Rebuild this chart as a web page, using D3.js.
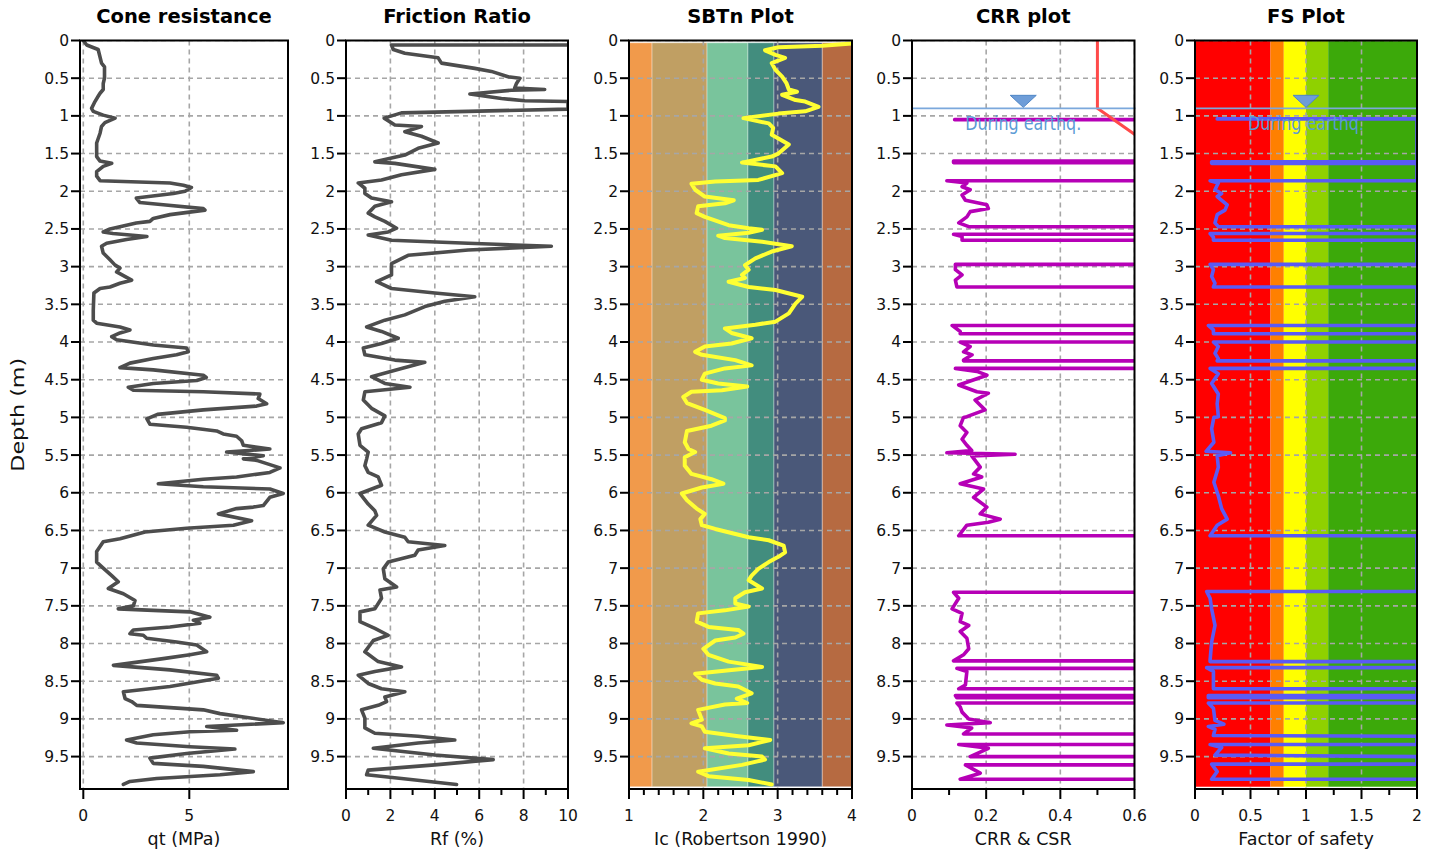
<!DOCTYPE html>
<html><head><meta charset="utf-8">
<script src="https://cdn.jsdelivr.net/npm/d3@7"></script>
<style>
html,body{margin:0;padding:0;background:#fff;}
svg{display:block;font-family:"DejaVu Sans",Verdana,sans-serif;}
</style></head>
<body>
<svg id="chart" width="1440" height="852"></svg>
<script>
// ---------------- DATA ----------------
const depthTicks = [0,0.5,1,1.5,2,2.5,3,3.5,4,4.5,5,5.5,6,6.5,7,7.5,8,8.5,9,9.5];
const depthTickLabels = ["0","0.5","1","1.5","2","2.5","3","3.5","4","4.5","5","5.5","6","6.5","7","7.5","8","8.5","9","9.5"];
const panelTitles = ["Cone resistance","Friction Ratio","SBTn Plot","CRR plot","FS Plot"];
const axisTitles = ["qt (MPa)","Rf (%)","Ic (Robertson 1990)","CRR & CSR","Factor of safety"];
const qtTicks = [0,5], qtTickLabels = ["0","5"];
const rfTicks = [0,2,4,6,8,10], rfTickLabels = ["0","2","4","6","8","10"], rfMinor = [1,3,5,7,9];
const icTicks = [1,2,3,4], icTickLabels = ["1","2","3","4"], icMinor = [1.2,1.4,1.6,1.8,2.2,2.4,2.6,2.8,3.2,3.4,3.6,3.8];
const crrTicks = [0,0.2,0.4,0.6], crrTickLabels = ["0","0.2","0.4","0.6"], crrMinor = [0.1,0.3,0.5];
const fsTicks = [0,0.5,1,1.5,2], fsTickLabels = ["0","0.5","1","1.5","2"], fsMinor = [0.25,0.75,1.25,1.75];

// Robertson SBTn zone boundaries (Ic) and colours
const icZoneBounds = [1,1.31,2.05,2.6,2.95,3.6,4];
const icZoneColors = ["#F19A4B","#C09F63","#79C49C","#428D7E","#4A5879","#B66A41"];
// Factor of safety zones
const fsZoneBounds = [0,0.68,0.8,1.0,1.2,2];
const fsZoneColors = ["#FF0000","#FF8000","#FFFF00","#8FD100","#3CA90A"];

const waterTableDepth = 0.9;
const waterLabel = "During earthq.";
const waterMarkCRR = 0.3, waterMarkFS = 1.0;

// profiles: [depth (m), value]
const qtProfile = [[0,0],[0.06,0.16],[0.12,0.7],[0.3,0.86],[0.35,1.0],[0.5,1.0],[0.57,0.94],[0.65,0.94],[0.7,0.79],[0.74,0.7],[0.81,0.55],[0.9,0.39],[0.94,0.47],[0.99,0.94],[1.03,1.5],[1.09,1.02],[1.14,0.86],[1.23,0.79],[1.36,0.63],[1.54,0.63],[1.6,0.79],[1.63,1.34],[1.67,0.94],[1.74,0.63],[1.8,0.63],[1.86,0.79],[1.89,4.09],[1.92,4.72],[1.95,5.1],[2.0,4.8],[2.03,4.25],[2.09,2.5],[2.15,2.67],[2.18,3.77],[2.23,5.66],[2.25,5.74],[2.31,4.09],[2.36,3.3],[2.4,3.14],[2.42,2.5],[2.5,1.26],[2.54,0.94],[2.56,1.4],[2.6,3.0],[2.64,2.04],[2.69,1.1],[2.73,0.86],[2.82,0.94],[2.91,1.26],[2.98,1.5],[3.02,1.73],[3.07,1.57],[3.18,2.28],[3.22,1.73],[3.27,1.26],[3.29,0.79],[3.35,0.5],[3.58,0.47],[3.71,0.47],[3.75,0.63],[3.8,1.73],[3.84,2.2],[3.88,1.73],[3.93,1.34],[3.97,1.57],[4.04,3.3],[4.08,4.87],[4.13,4.95],[4.17,4.4],[4.22,3.3],[4.28,2.2],[4.34,1.73],[4.37,3.3],[4.44,5.66],[4.47,5.8],[4.51,5.35],[4.55,3.3],[4.6,2.12],[4.64,2.36],[4.66,5.66],[4.69,8.33],[4.75,8.25],[4.82,8.65],[4.85,8.17],[4.9,5.66],[4.96,3.5],[5.02,3.0],[5.09,3.14],[5.13,4.87],[5.18,6.29],[5.22,6.6],[5.25,7.23],[5.31,7.47],[5.37,7.55],[5.42,8.8],[5.46,6.76],[5.51,8.49],[5.55,7.55],[5.57,8.18],[5.67,9.28],[5.73,8.8],[5.79,7.23],[5.82,5.66],[5.88,3.54],[5.92,5.66],[5.95,8.8],[6.01,9.43],[6.06,8.8],[6.17,8.49],[6.19,8.02],[6.21,7.23],[6.28,6.37],[6.37,7.94],[6.43,7.08],[6.47,4.87],[6.52,2.91],[6.61,1.73],[6.65,0.94],[6.78,0.63],[6.92,0.63],[7.0,0.94],[7.1,1.34],[7.18,1.65],[7.27,1.18],[7.34,1.89],[7.43,2.44],[7.5,2.36],[7.54,1.65],[7.56,3.3],[7.58,5.03],[7.65,5.97],[7.69,5.19],[7.73,5.5],[7.78,4.09],[7.82,2.36],[7.87,2.2],[7.89,2.83],[7.93,2.99],[7.98,4.4],[8.02,5.35],[8.11,5.82],[8.15,5.03],[8.2,3.77],[8.29,1.42],[8.35,4.09],[8.42,6.29],[8.46,6.37],[8.57,4.09],[8.64,1.89],[8.73,1.97],[8.77,2.28],[8.82,2.52],[8.88,5.66],[8.93,6.45],[9.05,9.43],[9.08,7.23],[9.1,5.82],[9.15,7.23],[9.17,5.03],[9.21,3.3],[9.28,2.04],[9.32,2.52],[9.37,5.03],[9.4,7.15],[9.46,4.87],[9.52,3.14],[9.59,3.3],[9.63,5.66],[9.7,8.02],[9.74,6.45],[9.79,3.46],[9.83,2.2],[9.87,1.89]];

const rfProfile = [[0.06,10],[0.06,2.05],[0.12,2.13],[0.17,2.65],[0.23,4.15],[0.3,4.3],[0.37,5.8],[0.41,6.55],[0.48,7.3],[0.5,7.83],[0.57,7.68],[0.63,7.6],[0.65,8.95],[0.66,7.45],[0.71,5.58],[0.77,7.0],[0.8,8.05],[0.81,10],[0.91,10],[0.94,5.5],[0.96,2.5],[1.03,1.72],[1.12,2.2],[1.14,3.4],[1.21,2.65],[1.27,3.4],[1.36,4.15],[1.43,3.25],[1.52,2.65],[1.61,1.3],[1.63,2.2],[1.71,4.0],[1.78,2.5],[1.85,1.6],[1.89,0.55],[1.96,0.85],[2.03,0.85],[2.09,1.15],[2.14,2.05],[2.2,1.3],[2.29,1.0],[2.34,1.3],[2.4,1.75],[2.49,2.28],[2.54,1.9],[2.58,1.0],[2.65,2.05],[2.69,5.5],[2.73,9.25],[2.78,5.5],[2.85,2.8],[2.96,2.05],[3.11,2.05],[3.2,1.38],[3.29,2.05],[3.35,4.0],[3.4,5.8],[3.46,4.45],[3.53,3.55],[3.64,2.65],[3.71,1.75],[3.8,0.93],[3.86,1.6],[3.95,2.35],[4.02,1.6],[4.08,0.78],[4.17,0.85],[4.24,2.2],[4.27,3.55],[4.35,2.5],[4.46,1.15],[4.55,1.75],[4.6,2.88],[4.66,0.85],[4.77,0.78],[4.88,1.15],[4.98,1.75],[5.07,1.6],[5.15,0.7],[5.22,0.55],[5.37,0.63],[5.46,1.0],[5.55,0.93],[5.64,0.85],[5.73,1.0],[5.79,1.45],[5.9,1.6],[6.01,0.63],[6.15,1.0],[6.24,1.3],[6.3,1.38],[6.43,1.0],[6.52,1.75],[6.59,2.65],[6.65,2.8],[6.7,4.45],[6.76,3.25],[6.83,3.1],[6.92,1.9],[7.01,1.68],[7.14,1.75],[7.25,2.28],[7.29,1.53],[7.4,1.6],[7.54,1.3],[7.58,0.63],[7.71,0.63],[7.8,1.3],[7.89,1.9],[7.96,1.23],[8.11,0.85],[8.24,1.45],[8.31,2.5],[8.37,1.3],[8.42,0.55],[8.53,1.0],[8.6,1.6],[8.64,2.65],[8.71,1.75],[8.77,1.83],[8.82,1.45],[8.88,0.7],[8.99,0.85],[9.12,0.85],[9.19,1.3],[9.23,3.25],[9.28,4.9],[9.32,3.25],[9.39,1.23],[9.48,4.0],[9.54,6.63],[9.61,4.0],[9.68,1.0],[9.74,0.93],[9.79,2.5],[9.87,4.98]];

const icProfile = [[0.04,4.0],[0.07,3.6],[0.09,3.01],[0.13,2.83],[0.19,2.97],[0.23,3.1],[0.3,2.92],[0.39,2.97],[0.48,3.06],[0.57,3.12],[0.65,3.15],[0.68,3.26],[0.72,3.06],[0.79,3.24],[0.81,3.37],[0.88,3.55],[0.94,3.37],[0.97,3.01],[1.03,2.54],[1.1,2.88],[1.16,2.94],[1.25,2.92],[1.3,3.01],[1.38,3.15],[1.5,3.01],[1.54,2.92],[1.62,2.52],[1.67,2.97],[1.76,3.06],[1.85,2.74],[1.87,2.16],[1.9,1.84],[1.98,1.89],[2.07,2.02],[2.12,2.41],[2.16,2.29],[2.2,1.93],[2.29,1.91],[2.34,2.02],[2.45,2.34],[2.49,2.61],[2.51,2.79],[2.55,2.61],[2.59,2.2],[2.62,2.29],[2.67,2.79],[2.73,3.19],[2.8,2.92],[2.89,2.7],[2.98,2.56],[3.04,2.61],[3.11,2.52],[3.15,2.56],[3.2,2.34],[3.27,2.61],[3.31,2.97],[3.4,3.33],[3.49,3.24],[3.62,3.15],[3.73,2.97],[3.77,2.7],[3.82,2.29],[3.88,2.38],[3.95,2.65],[4.02,2.38],[4.06,2.02],[4.13,1.89],[4.17,1.98],[4.24,2.43],[4.31,2.65],[4.35,2.29],[4.42,2.02],[4.5,1.98],[4.55,2.2],[4.59,2.59],[4.64,2.25],[4.66,1.84],[4.73,1.73],[4.81,1.78],[4.9,2.02],[5.01,2.29],[5.04,2.29],[5.11,2.11],[5.18,1.78],[5.33,1.75],[5.42,1.8],[5.46,1.89],[5.53,1.75],[5.64,1.75],[5.75,1.84],[5.82,2.11],[5.88,2.27],[5.93,1.98],[6.01,1.71],[6.1,1.78],[6.21,1.91],[6.28,2.02],[6.35,1.96],[6.43,1.98],[6.48,2.16],[6.59,2.61],[6.63,2.88],[6.7,3.08],[6.79,3.1],[6.85,3.01],[6.92,2.88],[7.01,2.74],[7.1,2.65],[7.16,2.61],[7.27,2.79],[7.32,2.56],[7.4,2.43],[7.47,2.43],[7.51,2.61],[7.56,2.29],[7.6,1.93],[7.71,1.91],[7.78,2.07],[7.82,2.47],[7.87,2.54],[7.92,2.43],[7.96,2.16],[8.07,2.0],[8.15,2.07],[8.24,2.34],[8.31,2.79],[8.35,2.38],[8.4,1.89],[8.48,1.98],[8.53,2.16],[8.57,2.47],[8.66,2.65],[8.73,2.45],[8.79,2.59],[8.81,2.29],[8.88,1.93],[9.01,1.98],[9.06,1.84],[9.1,1.98],[9.17,2.02],[9.23,2.47],[9.28,2.9],[9.35,2.61],[9.39,2.02],[9.46,2.34],[9.5,2.79],[9.54,2.83],[9.61,2.52],[9.7,1.93],[9.76,2.07],[9.81,2.61],[9.87,2.92]];

// CSR (red) line
const csrProfile = [[0,0.5],[0.9,0.5],[1.45,0.66]];

// CRR (purple) line, values beyond the axis are non-liquefiable (clipped)
const crrProfile = [[1.05,0.115],[1.05,0.7],[1.6,0.7],[1.6,0.112],[1.62,0.112],[1.62,0.7],[1.86,0.7],[1.86,0.094],[1.89,0.148],[1.94,0.135],[1.98,0.157],[2.05,0.135],[2.12,0.144],[2.18,0.202],[2.23,0.206],[2.27,0.157],[2.34,0.148],[2.42,0.126],[2.47,0.153],[2.47,0.7],[2.57,0.7],[2.57,0.112],[2.6,0.135],[2.65,0.135],[2.65,0.7],[2.97,0.7],[2.97,0.117],[3.04,0.117],[3.11,0.135],[3.18,0.117],[3.27,0.121],[3.27,0.7],[3.78,0.7],[3.78,0.108],[3.86,0.13],[3.89,0.13],[3.89,0.7],[4.0,0.7],[4.0,0.13],[4.06,0.157],[4.13,0.139],[4.17,0.162],[4.24,0.139],[4.25,0.139],[4.25,0.7],[4.35,0.7],[4.35,0.117],[4.39,0.175],[4.44,0.202],[4.57,0.126],[4.66,0.175],[4.68,0.206],[4.77,0.17],[4.9,0.197],[4.99,0.148],[5.0,0.139],[5.11,0.13],[5.2,0.148],[5.29,0.135],[5.37,0.148],[5.44,0.161],[5.47,0.094],[5.49,0.278],[5.51,0.161],[5.66,0.184],[5.75,0.166],[5.79,0.188],[5.88,0.13],[5.95,0.193],[6.06,0.166],[6.19,0.202],[6.28,0.184],[6.35,0.238],[6.39,0.206],[6.43,0.148],[6.57,0.126],[6.57,0.7],[7.32,0.7],[7.32,0.112],[7.4,0.126],[7.54,0.108],[7.6,0.135],[7.71,0.13],[7.76,0.153],[7.84,0.13],[7.93,0.148],[8.07,0.153],[8.15,0.139],[8.23,0.112],[8.23,0.7],[8.33,0.7],[8.33,0.121],[8.37,0.148],[8.55,0.144],[8.6,0.126],[8.6,0.7],[8.69,0.7],[8.69,0.117],[8.72,0.121],[8.72,0.7],[8.79,0.7],[8.79,0.121],[8.84,0.13],[8.91,0.135],[9.0,0.153],[9.05,0.211],[9.08,0.094],[9.12,0.161],[9.2,0.139],[9.2,0.7],[9.34,0.7],[9.34,0.126],[9.39,0.206],[9.5,0.157],[9.5,0.7],[9.61,0.7],[9.61,0.144],[9.72,0.184],[9.8,0.13],[9.8,0.7]];

// Factor of safety (capped at 2)
const fsProfile = [[1.04,0.2],[1.04,2.0],[1.61,2.0],[1.61,0.15],[1.63,0.15],[1.63,2.0],[1.86,2.0],[1.86,0.136],[1.89,0.21],[1.98,0.18],[2.03,0.24],[2.07,0.2],[2.18,0.29],[2.25,0.27],[2.31,0.2],[2.42,0.18],[2.47,0.21],[2.47,2.0],[2.56,2.0],[2.56,0.136],[2.61,0.166],[2.65,0.166],[2.65,2.0],[2.97,2.0],[2.97,0.136],[3.04,0.166],[3.13,0.15],[3.22,0.18],[3.27,0.166],[3.27,2.0],[3.78,2.0],[3.78,0.12],[3.84,0.166],[3.89,0.166],[3.89,2.0],[4.0,2.0],[4.0,0.166],[4.06,0.21],[4.15,0.18],[4.22,0.21],[4.25,0.2],[4.25,2.0],[4.35,2.0],[4.35,0.136],[4.42,0.21],[4.55,0.15],[4.69,0.21],[4.82,0.2],[4.99,0.21],[5.0,0.17],[5.15,0.15],[5.33,0.17],[5.45,0.1],[5.47,0.32],[5.51,0.2],[5.66,0.21],[5.86,0.17],[6.04,0.21],[6.21,0.24],[6.35,0.29],[6.43,0.2],[6.57,0.136],[6.57,2.0],[7.31,2.0],[7.31,0.105],[7.4,0.136],[7.54,0.15],[7.76,0.18],[7.98,0.15],[8.22,0.136],[8.24,0.136],[8.24,2.0],[8.32,2.0],[8.32,0.105],[8.37,0.166],[8.58,0.166],[8.6,0.166],[8.6,2.0],[8.69,2.0],[8.69,0.12],[8.72,0.12],[8.72,2.0],[8.79,2.0],[8.79,0.12],[8.86,0.166],[9.02,0.18],[9.07,0.26],[9.1,0.12],[9.14,0.18],[9.22,0.166],[9.23,2.0],[9.34,2.0],[9.34,0.136],[9.38,0.24],[9.48,0.18],[9.5,2.0],[9.6,2.0],[9.6,0.15],[9.7,0.2],[9.8,0.15],[9.8,2.0]];

// ---------------- LAYOUT ----------------
const plotTop = 40.5, plotBottom = 789;
const depthDomain = [0, 9.93];
const svg = d3.select("#chart");
const y = d3.scaleLinear().domain(depthDomain).range([plotTop, plotBottom]);

const panels = [
  {left:80, right:288, domain:[-0.156,9.656], ticks:qtTicks, labels:qtTickLabels, minor:[], title:panelTitles[0], xlabel:axisTitles[0]},
  {left:346, right:568, domain:[0,10], ticks:rfTicks, labels:rfTickLabels, minor:rfMinor, title:panelTitles[1], xlabel:axisTitles[1]},
  {left:629, right:852, domain:[1,4], ticks:icTicks, labels:icTickLabels, minor:icMinor, title:panelTitles[2], xlabel:axisTitles[2]},
  {left:912, right:1134.5, domain:[0,0.6], ticks:crrTicks, labels:crrTickLabels, minor:crrMinor, title:panelTitles[3], xlabel:axisTitles[3]},
  {left:1195, right:1417, domain:[0,2], ticks:fsTicks, labels:fsTickLabels, minor:fsMinor, title:panelTitles[4], xlabel:axisTitles[4]}
];
panels.forEach((p,i)=>{ p.x = d3.scaleLinear().domain(p.domain).range([p.left,p.right]); p.i=i; });

const defs = svg.append("defs");
panels.forEach((p,i)=>{
  defs.append("clipPath").attr("id","clip"+i).append("rect")
    .attr("x",p.left).attr("y",plotTop).attr("width",p.right-p.left).attr("height",plotBottom-plotTop);
});

const gridColor = "#A6A6A6";
const line = (xs)=> d3.line().x(d=>xs(d[1])).y(d=>y(d[0]));

panels.forEach((p,i)=>{
  const g = svg.append("g");
  const pg = g.append("g").attr("clip-path",`url(#clip${i})`);

  // zone bands
  if(i===2 || i===4){
    const bounds = i===2 ? icZoneBounds : fsZoneBounds;
    const cols = i===2 ? icZoneColors : fsZoneColors;
    const d0 = i===2 ? 0.03 : 0;
    const d1 = 9.9;
    pg.selectAll("rect.zone").data(cols).enter().append("rect")
      .attr("x",(c,k)=>p.x(bounds[k])).attr("width",(c,k)=>p.x(bounds[k+1])-p.x(bounds[k]))
      .attr("y",y(d0)).attr("height",y(d1)-y(d0))
      .attr("fill",c=>c)
      .attr("stroke", i===2 ? "rgba(255,255,255,0.35)" : "none").attr("stroke-width",1);
  }

  // grid
  pg.selectAll("line.hg").data(depthTicks).enter().append("line")
    .attr("x1",p.left).attr("x2",p.right).attr("y1",d=>y(d)).attr("y2",d=>y(d))
    .attr("stroke",gridColor).attr("stroke-width",1.6).attr("stroke-dasharray","5,4");
  pg.selectAll("line.vg").data(p.ticks).enter().append("line")
    .attr("x1",d=>p.x(d)).attr("x2",d=>p.x(d)).attr("y1",plotTop).attr("y2",plotBottom)
    .attr("stroke",gridColor).attr("stroke-width",1.6).attr("stroke-dasharray","5,4");

  // data lines
  const style = (sel,color,w)=> sel.attr("fill","none").attr("stroke",color).attr("stroke-width",w)
      .attr("stroke-linejoin","round").attr("stroke-linecap","round");
  if(i===0) style(pg.append("path").datum(qtProfile).attr("d",line(p.x)),"#4D4D4D",3.6);
  if(i===1) style(pg.append("path").datum(rfProfile).attr("d",line(p.x)),"#4D4D4D",3.6);
  if(i===2) style(pg.append("path").datum(icProfile).attr("d",line(p.x)),"#FFFF33",4);
  if(i===3){
    style(pg.append("path").datum(crrProfile).attr("d",line(p.x)),"#B600B6",3.6);
    style(pg.append("path").datum(csrProfile).attr("d",line(p.x)),"#FF4A4A",3);
  }
  if(i===4) style(pg.append("path").datum(fsProfile).attr("d",line(p.x)),"#5A5AF5",3.6);

  // water table
  if(i===3 || i===4){
    const wy = y(waterTableDepth);
    const mx = p.x(i===3 ? waterMarkCRR : waterMarkFS);
    g.append("line").attr("x1",p.left).attr("x2",p.right+1).attr("y1",wy).attr("y2",wy)
      .attr("stroke","#7BA8DC").attr("stroke-width",1.6);
    g.append("path").attr("d",`M${mx-13},${wy-13}L${mx+13},${wy-13}L${mx},${wy-1}Z`)
      .attr("fill","#6E9DD8").attr("stroke","#4F86C6").attr("stroke-width",1);
    g.append("text").attr("x",mx).attr("y",wy+22).attr("text-anchor","middle")
      .attr("font-size",19).attr("fill","#5B9BD5").attr("textLength",116).attr("lengthAdjust","spacingAndGlyphs")
      .text(waterLabel);
  }

  // frame
  g.append("rect").attr("x",p.left).attr("y",plotTop).attr("width",p.right-p.left).attr("height",plotBottom-plotTop)
    .attr("fill","none").attr("stroke","#000").attr("stroke-width",2);

  // y axis ticks & labels
  g.selectAll("line.yt").data(depthTicks).enter().append("line")
    .attr("x1",p.left-9).attr("x2",p.left).attr("y1",d=>y(d)).attr("y2",d=>y(d))
    .attr("stroke","#000").attr("stroke-width",2);
  g.selectAll("text.yl").data(depthTicks).enter().append("text")
    .attr("x",p.left-11).attr("y",d=>y(d)).attr("dy","0.35em").attr("text-anchor","end")
    .attr("font-size",15.5).attr("fill","#111").text((d,k)=>depthTickLabels[k]);

  // x axis ticks & labels
  g.selectAll("line.xt").data(p.ticks).enter().append("line")
    .attr("x1",d=>p.x(d)).attr("x2",d=>p.x(d)).attr("y1",plotBottom).attr("y2",plotBottom+10)
    .attr("stroke","#000").attr("stroke-width",2);
  g.selectAll("line.xm").data(p.minor).enter().append("line")
    .attr("x1",d=>p.x(d)).attr("x2",d=>p.x(d)).attr("y1",plotBottom).attr("y2",plotBottom+6)
    .attr("stroke","#000").attr("stroke-width",2);
  g.selectAll("text.xl").data(p.ticks).enter().append("text")
    .attr("x",d=>p.x(d)).attr("y",plotBottom+32).attr("text-anchor","middle")
    .attr("font-size",15.5).attr("fill","#111").text((d,k)=>p.labels[k]);

  // titles
  g.append("text").attr("x",(p.left+p.right)/2).attr("y",22.5).attr("text-anchor","middle")
    .attr("font-size",19.5).attr("font-weight","bold").attr("fill","#000").text(p.title);
  g.append("text").attr("x",(p.left+p.right)/2).attr("y",plotBottom+56).attr("text-anchor","middle")
    .attr("font-size",17.5).attr("fill","#111").text(p.xlabel);
});

// depth axis title
svg.append("text").attr("transform",`translate(24,${(plotTop+plotBottom)/2}) rotate(-90)`)
  .attr("text-anchor","middle").attr("font-size",17.5).attr("fill","#111")
  .attr("textLength",114).attr("lengthAdjust","spacingAndGlyphs").text("Depth (m)");
</script>
</body></html>
